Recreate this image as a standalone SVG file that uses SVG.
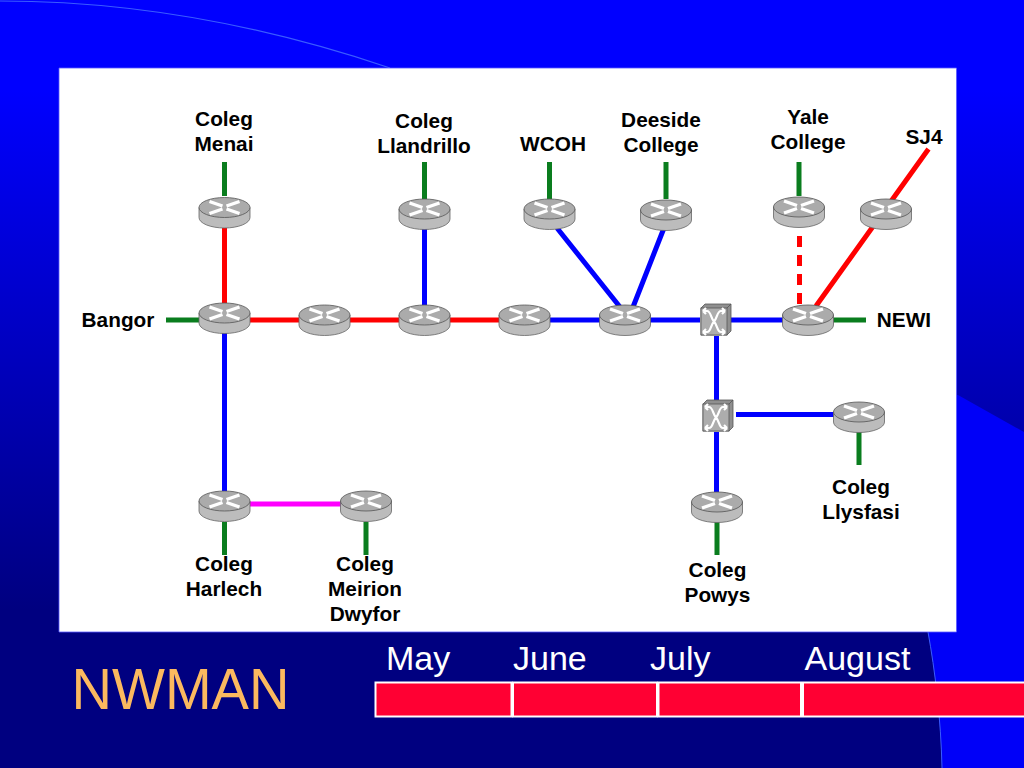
<svg xmlns="http://www.w3.org/2000/svg" xmlns:xlink="http://www.w3.org/1999/xlink" width="1024" height="768" viewBox="0 0 1024 768">
<style>
.l{font-family:"Liberation Sans",Arial,sans-serif;font-weight:bold;font-size:20.800px;fill:#000;text-anchor:middle}
.m{font-family:"Liberation Sans",Arial,sans-serif;font-size:34px;fill:#fff}
.c{fill:none;stroke-width:5}
.g{stroke:#0a7d1e}.r{stroke:#ff0000}.b{stroke:#0000ff}.p{stroke:#ff00ff}
.bar{fill:#ff0033;stroke:#fff;stroke-width:2}
.x{fill:none;stroke:#fff;stroke-width:2.200}
.rx{fill:none;stroke:#fff;stroke-width:3.400}
</style>
<defs>
<linearGradient id="bg" gradientUnits="userSpaceOnUse" x1="0" y1="90" x2="0" y2="610">
<stop offset="0" stop-color="#0000ff"/><stop offset="1" stop-color="#000080"/>
</linearGradient>
<g id="router">
<path d="M-25.500-5V5A25.500 10.500 0 0 0 25.500 5V-5Z" fill="#bcbcbc" stroke="#666" stroke-width="0.800"/>
<ellipse cx="0" cy="-5" rx="25.500" ry="10" fill="#ababab" stroke="#555" stroke-width="0.800"/>
<path class="rx" d="M-15-11L-2-6.500M15-11L2-6.500M-15 1L-2-3.500M15 1L2-3.500"/>
</g>
<g id="switch">
<path d="M-15-11L-11-15H15V12L11 16H-15Z" fill="#8f8f8f" stroke="#555" stroke-width="0.800"/>
<rect x="-15" y="-11" width="26" height="27" fill="#adadad" stroke="#555" stroke-width="0.800"/>
<path d="M11-11L15-15" stroke="#555" stroke-width="0.800"/>
<path class="x" d="M-13-8H-9C-5-8-5.500 -1-2 2.500C-5.500 6-5 13-9 13H-13M9-8H5C1-8 1.500-1-2 2.500C1.500 6 1 13 5 13H9M-13-8L-10-11M-13-8L-10-5M-13 13L-10 10M-13 13L-10 16M9-8L6-11M9-8L6-5M9 13L6 10M9 13L6 16"/>
</g>
</defs>

<rect width="1024" height="768" fill="url(#bg)"/>
<path d="M958 395L1024 432V768H942C941 720 935 670 928 632V395Z" fill="#0000f8"/>
<path d="M0 1C130 1 260 24 390 68" fill="none" stroke="#3a5cff" stroke-width="1.200"/>
<path d="M928 632C935 670 941 720 942 768" fill="none" stroke="#3a5cff" stroke-width="1"/>
<rect x="59" y="68" width="897.500" height="564" fill="#fff"/>
<path d="M59 632V68H956.500V632Z" fill="none" stroke="#5a5aff" stroke-width="0.800"/>

<g id="connectors">
<path class="c g" d="M224.500 162V196M166 320H199M424.500 162V199M549.500 162V199M666 162V199M799 162V196M833 320H866M859 432V465M224.500 522V555M366 522V555M717 522V555"/>
<path class="c r" d="M224.500 228V303M250 320H299M350 320H399M450 320H499M928.500 149L816 306"/>
<path class="c r" d="M799.500 236V304" stroke-dasharray="11 8"/>
<path class="c b" d="M424.500 229V305M550 320H600M650 320H700M731 320H783M557 228L620 307M664 228L633 307M716.500 336V402M716.500 432V492M736 414.500H834M224.500 333V491"/>
<path class="c p" d="M250 504H341"/>
</g>

<g id="n-menai"><use xlink:href="#router" href="#router" x="224.500" y="212.500"/><text class="l" x="224" y="125.500">Coleg</text><text class="l" x="224" y="150.500">Menai</text></g>
<g id="n-llandrillo"><use xlink:href="#router" href="#router" x="424.500" y="214"/><text class="l" x="424" y="127.500">Coleg</text><text class="l" x="424" y="152.500">Llandrillo</text></g>
<g id="n-wcoh"><use xlink:href="#router" href="#router" x="549.500" y="214"/><text class="l" x="553" y="151">WCOH</text></g>
<g id="n-deeside"><use xlink:href="#router" href="#router" x="666" y="215"/><text class="l" x="661" y="126.500">Deeside</text><text class="l" x="661" y="151.500">College</text></g>
<g id="n-yale"><use xlink:href="#router" href="#router" x="799" y="212"/><text class="l" x="808" y="124">Yale</text><text class="l" x="808" y="149">College</text></g>
<g id="n-sj4"><use xlink:href="#router" href="#router" x="886" y="214"/><text class="l" x="924" y="143.500">SJ4</text></g>
<g id="n-bangor"><use xlink:href="#router" href="#router" x="224.500" y="318"/><text class="l" x="118" y="326.500">Bangor</text></g>
<g id="n-r2"><use xlink:href="#router" href="#router" x="324.500" y="320"/></g>
<g id="n-r3"><use xlink:href="#router" href="#router" x="424.500" y="320"/></g>
<g id="n-r4"><use xlink:href="#router" href="#router" x="524.500" y="320"/></g>
<g id="n-r5"><use xlink:href="#router" href="#router" x="625" y="320"/></g>
<g id="n-s1"><use xlink:href="#switch" href="#switch" x="716" y="319"/></g>
<g id="n-newi"><use xlink:href="#router" href="#router" x="808" y="320"/><text class="l" x="904" y="326.500">NEWI</text></g>
<g id="n-s2"><use xlink:href="#switch" href="#switch" x="718" y="415"/></g>
<g id="n-llysfasi"><use xlink:href="#router" href="#router" x="859" y="417"/><text class="l" x="861" y="494">Coleg</text><text class="l" x="861" y="519">Llysfasi</text></g>
<g id="n-powys"><use xlink:href="#router" href="#router" x="717" y="507"/><text class="l" x="717.500" y="577">Coleg</text><text class="l" x="717.500" y="602">Powys</text></g>
<g id="n-harlech"><use xlink:href="#router" href="#router" x="224.500" y="506"/><text class="l" x="224" y="570.500">Coleg</text><text class="l" x="224" y="595.500">Harlech</text></g>
<g id="n-meirion"><use xlink:href="#router" href="#router" x="366" y="506"/><text class="l" x="365" y="570.500">Coleg</text><text class="l" x="365" y="595.500">Meirion</text><text class="l" x="365" y="620.500">Dwyfor</text></g>

<g id="timeline">
<rect class="bar" x="375.500" y="682.500" width="136" height="34"/>
<rect class="bar" x="513" y="682.500" width="144" height="34"/>
<rect class="bar" x="658.500" y="682.500" width="142.500" height="34"/>
<rect class="bar" x="803" y="682.500" width="222" height="34"/>
<text class="m" x="386" y="670">May</text>
<text class="m" x="513" y="670">June</text>
<text class="m" x="650" y="670">July</text>
<text class="m" x="804.500" y="670">August</text>
</g>
<text x="71.500" y="709" font-family="Liberation Sans, Arial, sans-serif" font-size="58" fill="#fbb95f" textLength="218" lengthAdjust="spacingAndGlyphs">NWMAN</text>
</svg>
